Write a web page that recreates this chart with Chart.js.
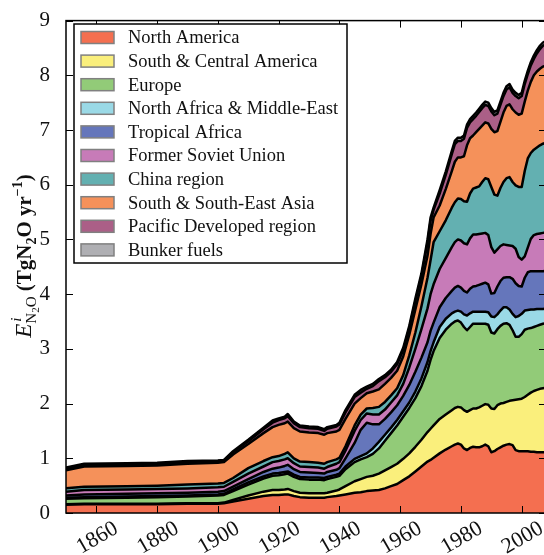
<!DOCTYPE html>
<html>
<head>
<meta charset="utf-8">
<script src="https://cdn.jsdelivr.net/npm/chart.js@4.4.0/dist/chart.umd.min.js"></script>
<style>
  html, body { margin: 0; padding: 0; background: #fff; overflow: hidden; }
  #wrap { position: absolute; left: 0; top: 0; width: 560px; height: 555px; }
</style>
</head>
<body>
<div id="wrap"><canvas id="chart" width="560" height="555"></canvas></div>
<script>
// Values. Each region array holds the top edge of its
// band in the stack (cumulative TgN2O/yr), bottom band first.
const years = [1850, 1856, 1870, 1880, 1890, 1900, 1902, 1905, 1910, 1915,
  1918, 1920, 1922, 1923, 1925, 1927, 1930, 1933, 1935, 1936,
  1939, 1940, 1942, 1945, 1947, 1949, 1951, 1953, 1955, 1957,
  1959, 1961, 1963, 1965, 1967, 1969, 1970, 1971, 1973, 1975,
  1977, 1978, 1979, 1980, 1981, 1982, 1983, 1984, 1985, 1986,
  1987, 1988, 1989, 1990, 1991, 1992, 1993, 1994, 1995, 1996,
  1997, 1998, 1999, 2000, 2001, 2002, 2003, 2004, 2005, 2006,
  2007, 2008];

const northAmerica = [0.15, 0.16, 0.16, 0.16, 0.17, 0.17, 0.18, 0.21, 0.26, 0.31,
  0.33, 0.33, 0.34, 0.34, 0.31, 0.29, 0.28, 0.28, 0.28, 0.29,
  0.31, 0.32, 0.34, 0.37, 0.38, 0.40, 0.41, 0.42, 0.45, 0.49,
  0.53, 0.60, 0.67, 0.76, 0.85, 0.94, 0.97, 1.01, 1.09, 1.16,
  1.22, 1.25, 1.27, 1.25, 1.18, 1.15, 1.19, 1.21, 1.20, 1.20,
  1.22, 1.25, 1.22, 1.11, 1.13, 1.17, 1.20, 1.23, 1.25, 1.26,
  1.24, 1.15, 1.13, 1.13, 1.13, 1.13, 1.12, 1.12, 1.11, 1.11,
  1.11, 1.11];

const southCentralAmerica = [0.16, 0.17, 0.17, 0.17, 0.18, 0.18, 0.19, 0.24, 0.32, 0.39,
  0.42, 0.42, 0.43, 0.44, 0.40, 0.37, 0.36, 0.36, 0.36, 0.37,
  0.41, 0.43, 0.49, 0.58, 0.62, 0.66, 0.68, 0.72, 0.78, 0.84,
  0.90, 0.99, 1.09, 1.21, 1.34, 1.48, 1.54, 1.60, 1.72, 1.80,
  1.88, 1.92, 1.94, 1.93, 1.88, 1.85, 1.88, 1.91, 1.91, 1.93,
  1.96, 1.99, 1.98, 1.91, 1.90, 1.97, 2.00, 2.01, 2.03, 2.05,
  2.06, 2.07, 2.08, 2.09, 2.12, 2.16, 2.20, 2.23, 2.25, 2.27,
  2.28, 2.29];

const europe = [0.26, 0.27, 0.28, 0.29, 0.30, 0.32, 0.33, 0.40, 0.52, 0.63,
  0.68, 0.69, 0.71, 0.72, 0.66, 0.62, 0.61, 0.61, 0.60, 0.62,
  0.66, 0.68, 0.80, 0.93, 0.98, 1.02, 1.08, 1.18, 1.32, 1.46,
  1.60, 1.76, 1.92, 2.10, 2.32, 2.60, 2.80, 2.96, 3.20, 3.35,
  3.46, 3.50, 3.52, 3.48, 3.40, 3.34, 3.40, 3.46, 3.46, 3.46,
  3.46, 3.46, 3.44, 3.30, 3.28, 3.36, 3.42, 3.46, 3.47, 3.44,
  3.34, 3.22, 3.22, 3.27, 3.35, 3.37, 3.38, 3.40, 3.42, 3.44,
  3.46, 3.47];

const northAfricaMiddleEast = [0.28, 0.29, 0.30, 0.31, 0.32, 0.34, 0.35, 0.43, 0.56, 0.67,
  0.72, 0.73, 0.75, 0.76, 0.70, 0.66, 0.65, 0.65, 0.64, 0.66,
  0.70, 0.72, 0.85, 0.99, 1.04, 1.09, 1.18, 1.30, 1.43, 1.56,
  1.70, 1.86, 2.02, 2.22, 2.46, 2.76, 2.96, 3.12, 3.40, 3.55,
  3.65, 3.68, 3.70, 3.68, 3.63, 3.61, 3.65, 3.68, 3.68, 3.68,
  3.68, 3.68, 3.67, 3.59, 3.58, 3.63, 3.70, 3.76, 3.76, 3.72,
  3.64, 3.58, 3.60, 3.64, 3.70, 3.71, 3.72, 3.72, 3.73, 3.73,
  3.73, 3.74];

const tropicalAfrica = [0.32, 0.34, 0.35, 0.36, 0.37, 0.39, 0.40, 0.48, 0.62, 0.75,
  0.81, 0.83, 0.86, 0.88, 0.80, 0.75, 0.74, 0.73, 0.72, 0.75,
  0.79, 0.82, 1.00, 1.28, 1.52, 1.65, 1.62, 1.62, 1.72, 1.84,
  1.97, 2.14, 2.34, 2.58, 2.84, 3.12, 3.33, 3.48, 3.76, 3.93,
  4.06, 4.12, 4.15, 4.12, 4.06, 4.03, 4.10, 4.14, 4.15, 4.17,
  4.19, 4.21, 4.18, 4.01, 4.02, 4.14, 4.24, 4.30, 4.31, 4.31,
  4.28, 4.20, 4.15, 4.14, 4.30, 4.40, 4.42, 4.42, 4.42, 4.42,
  4.42, 4.43];

const formerSovietUnion = [0.39, 0.42, 0.43, 0.44, 0.45, 0.47, 0.48, 0.57, 0.72, 0.85,
  0.93, 0.95, 0.98, 1.00, 0.91, 0.85, 0.84, 0.83, 0.81, 0.84,
  0.90, 0.93, 1.14, 1.50, 1.70, 1.82, 1.80, 1.80, 1.89, 2.02,
  2.15, 2.36, 2.66, 3.00, 3.36, 3.74, 4.00, 4.18, 4.46, 4.66,
  4.86, 4.95, 5.00, 4.98, 4.93, 4.91, 5.02, 5.09, 5.09, 5.10,
  5.11, 5.12, 5.08, 4.86, 4.76, 4.82, 4.88, 4.91, 4.90, 4.89,
  4.88, 4.83, 4.68, 4.63, 4.69, 4.85, 5.01, 5.08, 5.10, 5.11,
  5.12, 5.13];

const chinaRegion = [0.45, 0.48, 0.49, 0.50, 0.52, 0.54, 0.55, 0.64, 0.82, 0.95,
  1.02, 1.04, 1.08, 1.11, 1.00, 0.94, 0.93, 0.92, 0.90, 0.93,
  0.98, 1.01, 1.22, 1.60, 1.80, 1.91, 1.92, 1.94, 2.03, 2.15,
  2.28, 2.52, 2.88, 3.30, 3.78, 4.30, 4.62, 4.95, 5.15, 5.35,
  5.58, 5.68, 5.75, 5.74, 5.70, 5.69, 5.84, 5.93, 5.95, 5.97,
  6.05, 6.12, 6.10, 5.96, 5.82, 5.80, 5.94, 6.05, 6.12, 6.14,
  6.05, 5.99, 5.96, 5.96, 6.25, 6.48, 6.58, 6.64, 6.68, 6.72,
  6.75, 6.77];

const southEastAsia = [0.78, 0.85, 0.86, 0.87, 0.90, 0.92, 0.93, 1.07, 1.26, 1.46,
  1.57, 1.61, 1.64, 1.67, 1.55, 1.49, 1.47, 1.46, 1.43, 1.46,
  1.49, 1.52, 1.72, 2.00, 2.10, 2.19, 2.22, 2.26, 2.36, 2.47,
  2.60, 2.86, 3.26, 3.72, 4.18, 4.70, 5.10, 5.40, 5.62, 5.92,
  6.25, 6.42, 6.50, 6.50, 6.52, 6.72, 6.85, 6.90, 6.96, 7.02,
  7.08, 7.14, 7.12, 7.02, 6.96, 6.98, 7.15, 7.32, 7.44, 7.47,
  7.38, 7.32, 7.28, 7.30, 7.52, 7.72, 7.88, 8.00, 8.07, 8.12,
  8.16, 8.18];

const pacificDeveloped = [0.81, 0.88, 0.89, 0.90, 0.93, 0.95, 0.96, 1.11, 1.31, 1.53,
  1.65, 1.70, 1.73, 1.77, 1.64, 1.57, 1.55, 1.54, 1.50, 1.54,
  1.58, 1.62, 1.84, 2.12, 2.20, 2.27, 2.32, 2.41, 2.48, 2.58,
  2.72, 2.98, 3.38, 3.87, 4.33, 4.94, 5.34, 5.54, 5.84, 6.18,
  6.56, 6.74, 6.80, 6.80, 6.84, 7.04, 7.14, 7.20, 7.26, 7.33,
  7.40, 7.46, 7.44, 7.34, 7.27, 7.30, 7.46, 7.62, 7.74, 7.78,
  7.68, 7.62, 7.58, 7.62, 7.84, 8.02, 8.18, 8.30, 8.40, 8.48,
  8.54, 8.57];

const bunkerFuels = [0.83, 0.90, 0.91, 0.92, 0.95, 0.96, 0.97, 1.13, 1.34, 1.56,
  1.69, 1.73, 1.76, 1.81, 1.67, 1.60, 1.58, 1.57, 1.53, 1.57,
  1.61, 1.65, 1.88, 2.16, 2.25, 2.31, 2.36, 2.45, 2.52, 2.62,
  2.76, 3.02, 3.42, 3.92, 4.38, 5.00, 5.40, 5.58, 5.90, 6.24,
  6.62, 6.80, 6.86, 6.86, 6.90, 7.10, 7.20, 7.26, 7.32, 7.39,
  7.46, 7.52, 7.50, 7.40, 7.33, 7.36, 7.52, 7.68, 7.80, 7.84,
  7.74, 7.68, 7.64, 7.68, 7.90, 8.08, 8.24, 8.36, 8.46, 8.54,
  8.60, 8.63];

const regionNames = ['North America', 'South & Central America', 'Europe',
  'North Africa & Middle-East', 'Tropical Africa', 'Former Soviet Union',
  'China region', 'South & South-East Asia', 'Pacific Developed region', 'Bunker fuels'];
const regionColors = ['#f46f50', '#faef7c', '#92cb78', '#9ad9e6', '#6576bb',
  '#c77bb8', '#63b0b1', '#f5915a', '#ab5f87', '#afafb3'];
const regionSeries = [northAmerica, southCentralAmerica, europe, northAfricaMiddleEast,
  tropicalAfrica, formerSovietUnion, chinaRegion, southEastAsia, pacificDeveloped, bunkerFuels];

const xTickYears = [1860, 1880, 1900, 1920, 1940, 1960, 1980, 2000];
const yTicks = [0, 1, 2, 3, 4, 5, 6, 7, 8, 9];

const serif = "'Liberation Serif', 'Times New Roman', serif";

// frame on four sides, inward ticks, rotated year labels
const framePlugin = {
  id: 'frame',
  afterDatasetsDraw(chart) {
    const { ctx, chartArea: a, scales: { x, y } } = chart;
    ctx.save();
    ctx.strokeStyle = '#000';
    ctx.lineWidth = 1.5;
    ctx.strokeRect(a.left, a.top, a.right - a.left, a.bottom - a.top);
    ctx.lineWidth = 1;
    ctx.beginPath();
    x.ticks.forEach(t => {
      const px = Math.round(x.getPixelForValue(t.value)) + 0.5;
      ctx.moveTo(px, a.bottom); ctx.lineTo(px, a.bottom - 7);
      ctx.moveTo(px, a.top); ctx.lineTo(px, a.top + 7);
    });
    y.ticks.forEach(t => {
      const py = Math.round(y.getPixelForValue(t.value)) + 0.5;
      ctx.moveTo(a.left, py); ctx.lineTo(a.left + 7, py);
      ctx.moveTo(a.right, py); ctx.lineTo(a.right - 7, py);
    });
    ctx.stroke();

    ctx.fillStyle = '#111';
    ctx.font = '22px ' + serif;
    ctx.textAlign = 'center';
    ctx.textBaseline = 'middle';
    x.ticks.forEach(t => {
      ctx.save();
      ctx.translate(x.getPixelForValue(t.value) + 1, a.bottom + 25);
      ctx.rotate(-Math.PI / 6);
      ctx.fillText(String(t.value), 0, 0);
      ctx.restore();
    });
    ctx.restore();
  }
};

// boxed legend in the upper left corner
const legendPlugin = {
  id: 'boxLegend',
  afterDraw(chart) {
    const ctx = chart.ctx;
    const left = 74, top = 24, w = 273, h = 239, rowH = 23.6;
    ctx.save();
    ctx.fillStyle = '#fff';
    ctx.fillRect(left, top, w, h);
    ctx.strokeStyle = '#000';
    ctx.lineWidth = 1.5;
    ctx.strokeRect(left, top, w, h);
    ctx.font = '18.5px ' + serif;
    ctx.textBaseline = 'middle';
    ctx.textAlign = 'left';
    chart.data.datasets.forEach((ds, i) => {
      const cy = top + 13.5 + i * rowH;
      ctx.fillStyle = ds.backgroundColor;
      ctx.fillRect(81, cy - 6, 33, 12);
      ctx.strokeStyle = '#808080';
      ctx.lineWidth = 1.5;
      ctx.strokeRect(81, cy - 6, 33, 12);
      ctx.fillStyle = '#111';
      ctx.fillText(ds.label, 128, cy + 1);
    });
    ctx.restore();
  }
};

// y title with sub- and superscripts: E^i_{N2O} (TgN2O yr^-1)
const yTitlePlugin = {
  id: 'yTitle',
  afterDraw(chart) {
    const ctx = chart.ctx;
    const segs = [
      { t: 'E', f: 'italic 23px', dy: 0 },
      { t: 'i', f: 'italic 15px', dy: -10, sup: true },
      { t: 'N', f: '15px', dy: 5 },
      { t: '2', f: '11px', dy: 8 },
      { t: 'O', f: '15px', dy: 5 },
      { t: ' ', f: '21px', dy: 0 },
      { t: '(TgN', f: 'bold 21px', dy: 0 },
      { t: '2', f: 'bold 14px', dy: 5 },
      { t: 'O yr', f: 'bold 21px', dy: 0 },
      { t: '\u22121', f: 'bold 14px', dy: -9 },
      { t: ')', f: 'bold 21px', dy: 0 }
    ];
    ctx.save();
    let total = 0;
    segs.forEach(s => {
      ctx.font = s.f + ' ' + serif;
      s.w = ctx.measureText(s.t).width;
      if (!s.sup) total += s.w;
    });
    ctx.translate(31, 256);
    ctx.rotate(-Math.PI / 2);
    ctx.fillStyle = '#111';
    ctx.textBaseline = 'alphabetic';
    ctx.textAlign = 'left';
    let cx = -total / 2;
    segs.forEach(s => {
      ctx.font = s.f + ' ' + serif;
      if (s.sup) {
        ctx.fillText(s.t, cx + 2, s.dy);
      } else {
        ctx.fillText(s.t, cx, s.dy);
        cx += s.w;
      }
    });
    ctx.restore();
  }
};

const datasets = regionSeries.map((vals, i) => ({
  label: regionNames[i],
  data: years.map((yr, k) => ({ x: yr, y: vals[k] })),
  backgroundColor: regionColors[i],
  borderColor: '#000',
  borderWidth: 2.5,
  pointRadius: 0,
  tension: 0,
  fill: i === 0 ? 'origin' : '-1'
}));

new Chart(document.getElementById('chart'), {
  type: 'line',
  data: { datasets },
  options: {
    responsive: false,
    animation: false,
    devicePixelRatio: 1,
    layout: { padding: { top: 15, right: 14, bottom: 0, left: 0 } },
    elements: { line: { borderJoinStyle: 'round' } },
    plugins: { legend: { display: false }, tooltip: { enabled: false } },
    scales: {
      x: {
        type: 'linear',
        min: 1850,
        max: 2008,
        grid: { display: false },
        border: { display: false },
        ticks: { display: false },
        afterBuildTicks: s => { s.ticks = xTickYears.map(v => ({ value: v })); },
        afterFit: s => { s.height = 42; }
      },
      y: {
        min: 0,
        max: 9,
        grid: { display: false },
        border: { display: false },
        ticks: { stepSize: 1, padding: 8, color: '#111', font: { family: serif, size: 21 } },
        afterBuildTicks: s => { s.ticks = yTicks.map(v => ({ value: v })); },
        afterFit: s => { s.width = 66; }
      }
    }
  },
  plugins: [framePlugin, legendPlugin, yTitlePlugin]
});
</script>
</body>
</html>
